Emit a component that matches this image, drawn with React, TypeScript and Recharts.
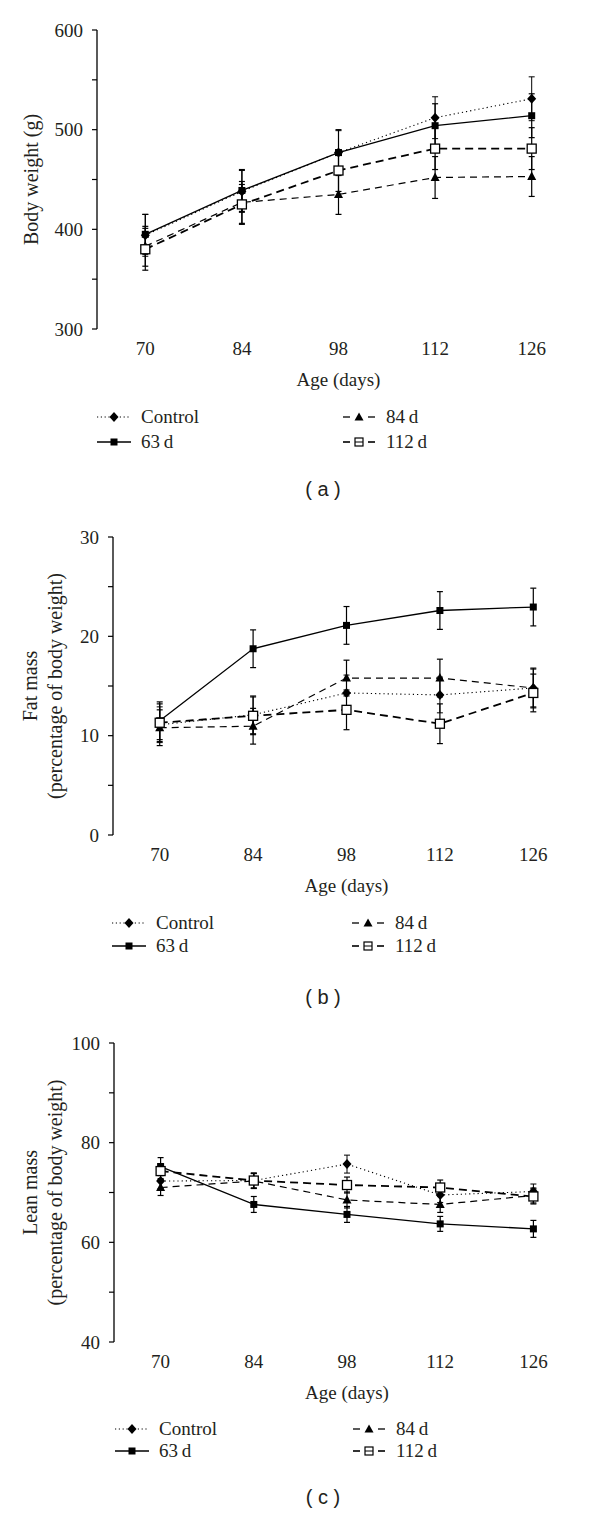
import React from 'react';
import { LineChart, Line, XAxis, YAxis, ErrorBar, Legend } from 'recharts';

const ages = [70, 84, 98, 112, 126];
const edgeTicks = [63, 77, 91, 105, 119, 133];

// Panel (a) body weight (g)
const bwControl = [394, 438, 477, 512, 531];
const bwControlErr = [21, 21, 22, 21, 22];
const bw63 = [395, 439, 477, 504, 514];
const bw63Err = [20, 21, 23, 22, 22];
const bw84 = [383, 427, 435, 452, 453];
const bw84Err = [20, 21, 20, 21, 20];
const bw112 = [380, 425, 459, 481, 481];
const bw112Err = [21, 20, 21, 21, 21];
const bwTicks = [300, 350, 400, 450, 500, 550, 600];

// Panel (b) fat mass (% body weight)
const fatControl = [11.1, 12.1, 14.3, 14.1, 14.8];
const fatControlErr = [1.8, 1.9, 1.8, 1.8, 1.9];
const fat63 = [11.5, 18.75, 21.1, 22.6, 22.95];
const fat63Err = [1.9, 1.9, 1.9, 1.9, 1.9];
const fat84 = [10.8, 10.95, 15.8, 15.8, 14.8];
const fat84Err = [1.8, 1.8, 1.8, 1.9, 2.0];
const fat112 = [11.3, 12.0, 12.6, 11.2, 14.3];
const fat112Err = [1.9, 1.9, 2.0, 2.0, 1.9];
const fatTicks = [0, 5, 10, 15, 20, 25, 30];

// Panel (c) lean mass (% body weight)
const leanControl = [72.3, 72.4, 75.7, 69.5, 70.2];
const leanControlErr = [1.5, 1.5, 1.8, 1.5, 1.5];
const lean63 = [75.2, 67.6, 65.6, 63.7, 62.7];
const lean63Err = [1.8, 1.6, 1.6, 1.5, 1.7];
const lean84 = [71.0, 72.3, 68.5, 67.6, 69.4];
const lean84Err = [1.6, 1.5, 1.6, 1.6, 1.5];
const lean112 = [74.3, 72.4, 71.5, 71.0, 69.2];
const lean112Err = [1.5, 1.5, 1.6, 1.5, 1.5];
const leanTicks = [40, 50, 60, 70, 80, 90, 100];

const seriesNames = ['Control', '63\u2009d', '84\u2009d', '112\u2009d'];

const INK = '#231f20';
const SERIF = 'Liberation Serif, Times New Roman, serif';
const SANS = 'Liberation Sans, Arial, sans-serif';

function makeRows(c: number[], cE: number[], a: number[], aE: number[], b: number[], bE: number[], d: number[], dE: number[]) {
  return ages.map((age, i) => ({
    age,
    control: c[i], controlErr: cE[i],
    s63: a[i], s63Err: aE[i],
    s84: b[i], s84Err: bE[i],
    s112: d[i], s112Err: dE[i],
  }));
}

const bwRows = makeRows(bwControl, bwControlErr, bw63, bw63Err, bw84, bw84Err, bw112, bw112Err);
const fatRows = makeRows(fatControl, fatControlErr, fat63, fat63Err, fat84, fat84Err, fat112, fat112Err);
const leanRows = makeRows(leanControl, leanControlErr, lean63, lean63Err, lean84, lean84Err, lean112, lean112Err);

const DiamondDot = (p: any) => {
  const { cx, cy, index } = p;
  if (cx == null || cy == null) return <g key={`dd-${index}`} />;
  return <polygon key={`dd-${index}`} points={`${cx},${cy - 5} ${cx + 4.5},${cy} ${cx},${cy + 5} ${cx - 4.5},${cy}`} fill="#000" />;
};
const SquareDot = (p: any) => {
  const { cx, cy, index } = p;
  if (cx == null || cy == null) return <g key={`sd-${index}`} />;
  return <rect key={`sd-${index}`} x={cx - 3.5} y={cy - 3.5} width={7} height={7} fill="#000" />;
};
const TriangleDot = (p: any) => {
  const { cx, cy, index } = p;
  if (cx == null || cy == null) return <g key={`td-${index}`} />;
  return <polygon key={`td-${index}`} points={`${cx},${cy - 5} ${cx + 4.5},${cy + 3.5} ${cx - 4.5},${cy + 3.5}`} fill="#000" />;
};
const OpenSquareDot = (p: any) => {
  const { cx, cy, index } = p;
  if (cx == null || cy == null) return <g key={`od-${index}`} />;
  return <rect key={`od-${index}`} x={cx - 4.5} y={cy - 4.5} width={9} height={9} fill="#fff" stroke="#000" strokeWidth={1.3} />;
};

const LegendSymbol = ({ kind }: { kind: number }) => {
  return (
    <svg width={34} height={12} style={{ display: 'block' }}>
      {kind === 0 && (
        <g>
          <line x1={0} y1={6} x2={34} y2={6} stroke="#000" strokeWidth={1} strokeDasharray="1.2 2.6" />
          <polygon points="17,1 21.5,6 17,11 12.5,6" fill="#000" />
        </g>
      )}
      {kind === 1 && (
        <g>
          <line x1={0} y1={6} x2={34} y2={6} stroke="#000" strokeWidth={1.3} />
          <rect x={13.5} y={2.5} width={7} height={7} fill="#000" />
        </g>
      )}
      {kind === 2 && (
        <g>
          <line x1={1} y1={6} x2={8} y2={6} stroke="#000" strokeWidth={1.3} />
          <line x1={26} y1={6} x2={33} y2={6} stroke="#000" strokeWidth={1.3} />
          <polygon points="17,1.5 21.5,9.5 12.5,9.5" fill="#000" />
        </g>
      )}
      {kind === 3 && (
        <g>
          <line x1={1} y1={6} x2={8} y2={6} stroke="#000" strokeWidth={1.6} />
          <line x1={26} y1={6} x2={33} y2={6} stroke="#000" strokeWidth={1.6} />
          <rect x={13} y={2} width={8} height={8} fill="#fff" stroke="#000" strokeWidth={1.2} />
          <line x1={13} y1={6} x2={21} y2={6} stroke="#000" strokeWidth={1} />
        </g>
      )}
    </svg>
  );
};

type LegendCfg = { col1: number; col2: number; rows: number[]; title: string; titleY: number; width: number; height: number };

const LegendBlock = ({ cfg }: { cfg: LegendCfg }) => {
  const items = [
    { kind: 0, x: cfg.col1, y: cfg.rows[0] },
    { kind: 1, x: cfg.col1, y: cfg.rows[1] },
    { kind: 2, x: cfg.col2, y: cfg.rows[0] },
    { kind: 3, x: cfg.col2, y: cfg.rows[1] },
  ];
  return (
    <div style={{ position: 'relative', width: cfg.width, height: cfg.height, pointerEvents: 'none' }}>
      {items.map((it) => (
        <div key={it.kind} style={{ position: 'absolute', left: it.x, top: it.y - 12, height: 24, display: 'flex', alignItems: 'center' }}>
          <LegendSymbol kind={it.kind} />
          <span style={{ marginLeft: 10, fontFamily: SERIF, fontSize: 19, color: INK, lineHeight: '24px', whiteSpace: 'nowrap' }}>{seriesNames[it.kind]}</span>
        </div>
      ))}
      <div style={{ position: 'absolute', left: 323 - 50, width: 100, top: cfg.titleY - 13, height: 26, lineHeight: '26px', textAlign: 'center', fontFamily: SANS, fontSize: 20, color: INK, whiteSpace: 'pre' }}>{cfg.title}</div>
    </div>
  );
};

const YTitle = (props: any) => {
  const { viewBox, lines } = props;
  const { x, y, height } = viewBox;
  const cy = y + height / 2;
  const xs = lines.length === 1 ? [x + 31] : [x + 30, x + 55];
  return (
    <g>
      {lines.map((t: string, i: number) => (
        <text key={i} x={xs[i]} y={cy} transform={`rotate(-90 ${xs[i]} ${cy})`} textAnchor="middle" dominantBaseline="central" fontFamily={SERIF} style={{ fontFamily: SERIF }} fontSize={20} fill={INK}>{t}</text>
      ))}
    </g>
  );
};

const tickStyle = { fontSize: 19, fill: INK, fontFamily: SERIF, style: { fontFamily: SERIF } };

type PanelProps = {
  data: any[];
  domain: [number, number];
  yTicks: number[];
  labelEvery: number;
  yLines: string[];
  leftW: number;
  height: number;
  marginTop: number;
  marginBottom: number;
  legend: LegendCfg;
};

const Panel = ({ data, domain, yTicks, labelEvery, yLines, leftW, height, marginTop, marginBottom, legend }: PanelProps) => (
  <LineChart width={600} height={height} data={data} margin={{ top: marginTop, right: 20, left: 0, bottom: marginBottom }} style={{ fontFamily: SERIF }}>
    <XAxis xAxisId="edge" dataKey="age" type="number" domain={[63, 133]} ticks={edgeTicks} tick={false} tickSize={5}
      tickLine={{ stroke: '#000', strokeWidth: 1.2 }} axisLine={{ stroke: '#000', strokeWidth: 1.3 }} height={0} allowDataOverflow />
    <XAxis xAxisId="lbl" dataKey="age" type="number" domain={[63, 133]} ticks={ages} tickLine={false} axisLine={false}
      tickSize={0} tickMargin={13} height={60} interval={0} allowDataOverflow
      tick={tickStyle}
      label={{ value: 'Age (days)', position: 'insideBottom', offset: 3, fontSize: 19, fill: INK, fontFamily: SERIF, style: { fontFamily: SERIF } }} />
    <YAxis type="number" domain={domain} ticks={yTicks} interval={0} width={leftW} tickSize={5} tickMargin={9}
      tickFormatter={(v: number) => ((v - domain[0]) % labelEvery === 0 ? String(v) : '')}
      axisLine={{ stroke: '#000', strokeWidth: 1.3 }} tickLine={{ stroke: '#000', strokeWidth: 1.2 }}
      tick={tickStyle}
      label={{ content: (p: any) => <YTitle {...p} lines={yLines} /> }} />
    <Legend verticalAlign="middle" align="center" layout="horizontal"
      wrapperStyle={{ left: 0, top: 0, width: 600, height: height, pointerEvents: 'none' }}
      content={() => <LegendBlock cfg={legend} />} />
    <Line xAxisId="lbl" dataKey="control" stroke="#000" strokeWidth={1.1} strokeDasharray="1.2 3" dot={DiamondDot} activeDot={false} isAnimationActive={false}>
      <ErrorBar dataKey="controlErr" width={3} stroke="#000" strokeWidth={1} direction="y" />
    </Line>
    <Line xAxisId="lbl" dataKey="s63" stroke="#000" strokeWidth={1.3} dot={SquareDot} activeDot={false} isAnimationActive={false}>
      <ErrorBar dataKey="s63Err" width={3} stroke="#000" strokeWidth={1.2} direction="y" />
    </Line>
    <Line xAxisId="lbl" dataKey="s84" stroke="#000" strokeWidth={1.2} strokeDasharray="7 5" dot={TriangleDot} activeDot={false} isAnimationActive={false}>
      <ErrorBar dataKey="s84Err" width={3} stroke="#000" strokeWidth={1.2} direction="y" />
    </Line>
    <Line xAxisId="lbl" dataKey="s112" stroke="#000" strokeWidth={1.8} strokeDasharray="8 5" dot={OpenSquareDot} activeDot={false} isAnimationActive={false}>
      <ErrorBar dataKey="s112Err" width={3} stroke="#000" strokeWidth={1.2} direction="y" />
    </Line>
  </LineChart>
);

export default function App() {
  return (
    <div style={{ position: 'absolute', left: 0, top: 0, width: 600, height: 1513, background: '#fff', overflow: 'hidden', fontFamily: SERIF }}>
      <div style={{ position: 'absolute', left: 0, top: 0 }}>
        <Panel data={bwRows} domain={[300, 600]} yTicks={bwTicks} labelEvery={100} yLines={['Body weight (g)']}
          leftW={97} height={507} marginTop={30} marginBottom={118}
          legend={{ col1: 97, col2: 342, rows: [417, 442], title: '( a )', titleY: 489, width: 600, height: 507 }} />
      </div>
      <div style={{ position: 'absolute', left: 0, top: 507 }}>
        <Panel data={fatRows} domain={[0, 30]} yTicks={fatTicks} labelEvery={10} yLines={['Fat mass', '(percentage of body weight)']}
          leftW={113} height={507} marginTop={30} marginBottom={119}
          legend={{ col1: 112, col2: 351, rows: [416, 439], title: '( b )', titleY: 490, width: 600, height: 507 }} />
      </div>
      <div style={{ position: 'absolute', left: 0, top: 1012 }}>
        <Panel data={leanRows} domain={[40, 100]} yTicks={leanTicks} labelEvery={20} yLines={['Lean mass', '(percentage of body weight)']}
          leftW={114} height={501} marginTop={31} marginBottom={111}
          legend={{ col1: 115, col2: 352, rows: [417, 439], title: '( c )', titleY: 485, width: 600, height: 501 }} />
      </div>
    </div>
  );
}
